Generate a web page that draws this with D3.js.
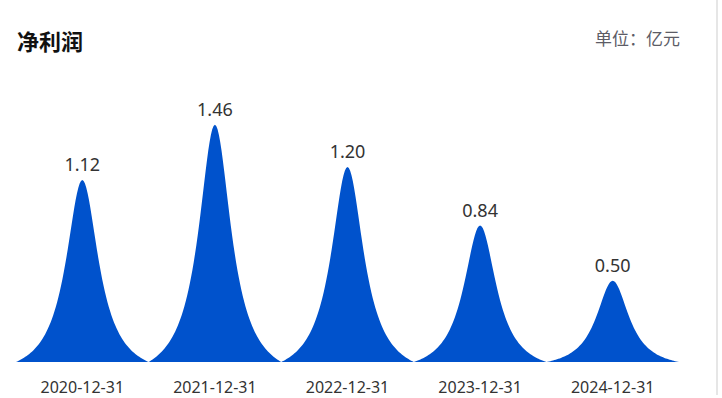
<!DOCTYPE html>
<html><head><meta charset="utf-8">
<script src="https://cdn.jsdelivr.net/npm/d3@7/dist/d3.min.js"></script>
<style>
html,body{margin:0;padding:0;background:#fff;overflow:hidden;}
svg{display:block;font-family:"Noto Sans","Noto Sans CJK SC",sans-serif;}
</style></head>
<body>
<script>
const categories = ["2020-12-31","2021-12-31","2022-12-31","2023-12-31","2024-12-31"];
const values = [1.12, 1.46, 1.20, 0.84, 0.50];
const valueLabels = ["1.12","1.46","1.20","0.84","0.50"];
const title = "净利润";
const unitText = "单位：亿元";

const W = 722, H = 398;
const svg = d3.select("body").append("svg").attr("width", W).attr("height", H);

const x = d3.scaleBand().domain(categories).range([16, 679]).padding(0);
const y = d3.scaleLinear().domain([0, 1.6]).range([362, 102]);

// peak symbol outline (Lorentzian-like bell), normalized: t in [-1,1] -> height fraction
const A = 0.30, C = 1 / (1 + 1 / (A * A));
const shapeU = t => (1 / (1 + (t / A) * (t / A)) - C) / (1 - C);
const ts = d3.range(-1, 1.0001, 0.02);

const line = d3.line();

const g = svg.append("g");
categories.forEach((c, i) => {
  const cx = x(c) + x.bandwidth() / 2;
  const hw = x.bandwidth() / 2;
  const base = y(0), top = y(values[i]);
  const h = base - top;
  const coords = ts.map(t => [cx + t * hw, base - shapeU(t) * h]);
  g.append("path").attr("d", line(coords) + "Z").attr("fill", "#0052CC");
  g.append("text").attr("x", cx).attr("y", top - 9).attr("text-anchor", "middle")
    .attr("font-size", 18).attr("fill", "#333").text(valueLabels[i]);
});

const xAxis = d3.axisBottom(x).tickSize(0).tickPadding(0);
const ax = svg.append("g").attr("transform", "translate(0,362)").call(xAxis);
ax.select(".domain").remove();
ax.selectAll("text").attr("font-size", 16).attr("fill", "#333").attr("dy", null).attr("y", 31)
  .attr("font-family", "Noto Sans, sans-serif");

svg.append("text").attr("x", 17).attr("y", 50).attr("font-size", 22).attr("font-weight", "bold")
  .attr("fill", "#111").attr("font-family", "Noto Sans CJK SC, sans-serif").text(title);
svg.append("text").attr("x", 680).attr("y", 45).attr("text-anchor", "end").attr("font-size", 17)
  .attr("fill", "#5c5c66").attr("font-family", "Noto Sans CJK SC, sans-serif").text(unitText);

svg.append("line").attr("x1", 717).attr("x2", 717).attr("y1", 0).attr("y2", 395)
  .attr("stroke", "#e6e6e6").attr("stroke-width", 2);
</script>
</body></html>
